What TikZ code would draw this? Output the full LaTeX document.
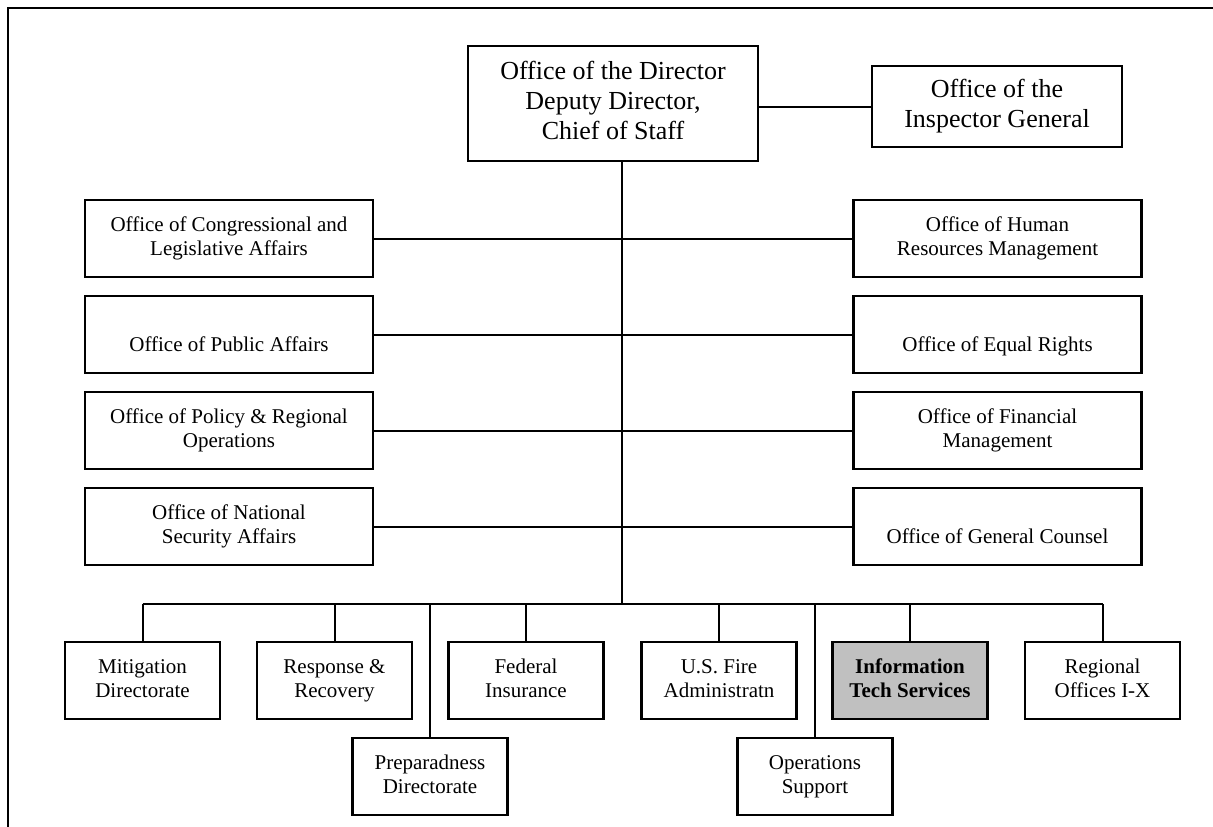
\documentclass[tikz,border=0pt]{standalone}
\usepackage{fontspec}
\setmainfont{Liberation Serif}
\begin{document}
\begin{tikzpicture}[x=1pt,y=-1pt,
  box/.style={draw, line width=2.2pt, inner sep=0pt, align=center,
    minimum height=77pt, font=\fontsize{21}{24.5}\selectfont},
  bigbox/.style={box, font=\fontsize{26}{30}\selectfont},
  side/.style={box, minimum width=288pt},
  unit/.style={box, minimum width=155pt},
  link/.style={line width=2pt},
  edge/.style={line width=2.4pt}]
\useasboundingbox (0,0) rectangle (1213,827);

% page frame (top and left edges)
\coordinate (ftl) at (8,8);
\coordinate (ftr) at (1213,8);
\coordinate (fbl) at (8,827);
\draw[edge] (ftr) -- (ftl) -- (fbl);

% top level
\node[bigbox, minimum width=290pt, minimum height=115pt] (dir) at (613,103.5)
  {\strut Office of the Director\\Deputy Director,\\Chief of Staff\strut};
\node[bigbox, minimum width=250pt, minimum height=81pt] (ig) at (997,106.5)
  {\strut Office of the\\Inspector General\strut};
\draw[link] (ig.west -| dir.east) -- (ig.west);

% staff offices
\node[side] (cla) at (229,238.5) {\strut Office of Congressional and\\Legislative Affairs\strut};
\node[side] (opa) at (229,334.5) {\strut\\Office of Public Affairs\strut};
\node[side] (opr) at (229,430.5) {\strut Office of Policy \& Regional\\Operations\strut};
\node[side] (nsa) at (229,526.5) {\strut Office of National\\Security Affairs\strut};
\node[side] (hrm) at (997.5,238.5) {\strut Office of Human\\Resources Management\strut};
\node[side] (oer) at (997.5,334.5) {\strut\\Office of Equal Rights\strut};
\node[side] (ofm) at (997.5,430.5) {\strut Office of Financial\\Management\strut};
\node[side] (ogc) at (997.5,526.5) {\strut\\Office of General Counsel\strut};

\draw[link] (cla.east) -- (hrm.west);
\draw[link] (opa.east) -- (oer.west);
\draw[link] (opr.east) -- (ofm.west);
\draw[link] (nsa.east) -- (ogc.west);

% directorates and services
\node[unit] (mit) at (142.5,680.5) {\strut Mitigation\\Directorate\strut};
\node[unit] (rr)  at (334.5,680.5) {\strut Response \&\\Recovery\strut};
\node[unit] (fi)  at (526,680.5) {\strut Federal\\Insurance\strut};
\node[unit] (usf) at (719,680.5) {\strut U.S. Fire\\Administratn\strut};
\node[unit, fill={rgb,255:red,192;green,192;blue,192}, font=\fontsize{21}{24.5}\selectfont\bfseries]
  (its) at (910,680.5) {\strut Information\\Tech Services\strut};
\node[unit] (reg) at (1102.5,680.5) {\strut Regional\\Offices I-X\strut};
\node[unit] (prep) at (430,776.5) {\strut Preparadness\\Directorate\strut};
\node[unit] (ops)  at (815,776.5) {\strut Operations\\Support\strut};

% trunk and distribution bar
\coordinate (trunk) at (622,604);
\draw[link] (dir.south -| trunk) -- (trunk);
\draw[link] (mit.north |- trunk) -- (reg.north |- trunk);
\foreach \n in {mit,rr,fi,usf,its,reg,prep,ops}
  \draw[link] (\n.north |- trunk) -- (\n.north);
\end{tikzpicture}
\end{document}
